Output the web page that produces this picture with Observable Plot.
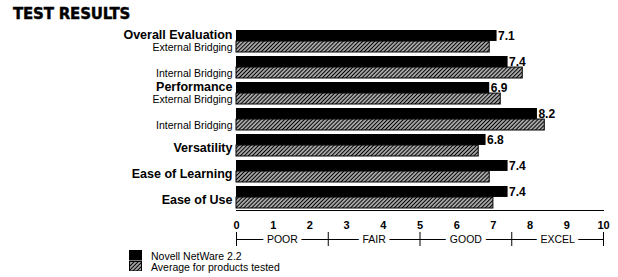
<!DOCTYPE html>
<html><head><meta charset="utf-8">
<script src="https://cdn.jsdelivr.net/npm/d3@7"></script>
<script src="https://cdn.jsdelivr.net/npm/@observablehq/plot@0.6"></script>
<style>
body{margin:0;background:#fff;}
#wrap{position:relative;width:618px;height:277px;overflow:hidden;font-family:"Liberation Sans",Arial,Helvetica,sans-serif;color:#000;}
#title{position:absolute;left:13px;top:7px;font-family:"DejaVu Sans",sans-serif;font-weight:bold;font-size:15px;line-height:1;letter-spacing:-0.2px;white-space:nowrap;-webkit-text-stroke:0.4px #000;}
#main{position:absolute;left:0;top:22px;}
#scale{position:absolute;left:0;top:210px;}
#legend{position:absolute;left:129px;top:250px;font-size:10.5px;}
#legend .item{display:flex;align-items:center;height:10.5px;line-height:10.5px;white-space:nowrap;}
#legend .item span{position:relative;top:1px;}
#legend .sw{display:block;width:13px;height:10.5px;margin-right:9px;box-sizing:border-box;}
</style></head><body>
<svg width="0" height="0" style="position:absolute"><defs>
<pattern id="hatch" patternUnits="userSpaceOnUse" width="2.8" height="2.8" patternTransform="rotate(45)">
<rect width="2.8" height="2.8" fill="white"/><line x1="1.4" y1="0" x2="1.4" y2="2.8" stroke="black" stroke-width="1.6"/>
</pattern></defs></svg>
<div id="wrap">
  <div id="title">TEST RESULTS</div>
  <div id="main"></div>
  <div id="scale"></div>
  <div id="legend"></div>
</div>
<script>
// ---- data ----
const categories = ["Overall Evaluation","Overall Evaluation","Performance","Performance","Versatility","Ease of Learning","Ease of Use"];
const subcategories = ["External Bridging","Internal Bridging","External Bridging","Internal Bridging",null,null,null];
const netware = [7.1, 7.4, 6.9, 8.2, 6.8, 7.4, 7.4];
const average = [6.9, 7.8, 7.2, 8.4, 6.6, 6.9, 7.0];
const xTicks = [0,1,2,3,4,5,6,7,8,9,10];
const ratingBreaks = [0, 2.5, 5, 7.5, 10];
const ratingLabels = ["POOR","FAIR","GOOD","EXCEL"];
const seriesNames = ["Novell NetWare 2.2","Average for products tested"];

const rows = categories.map((c, i) => ({
  i, category: c, sub: subcategories[i],
  first: i === 0 || categories[i - 1] !== c,
  netware: netware[i], average: average[i]
}));
const ratingBands = ratingLabels.map((label, k) => ({label, x1: ratingBreaks[k], x2: ratingBreaks[k + 1]}));

// ---- layout ----
const W = 618, H = 188, mT = 6, mB = 0, mL = 236, mR = 15;
const pI = 0.15, pO = 0.075;
const step = (H - mT - mB) / (rows.length - pI + 2 * pO);
const half = step * (1 - pI) / 2;
const font = "Liberation Sans, Arial, Helvetica, sans-serif";

const main = Plot.plot({
  width: W, height: H, marginTop: mT, marginBottom: mB, marginLeft: mL, marginRight: mR,
  style: {fontFamily: font, background: "white", overflow: "visible", color: "black"},
  x: {domain: [0, 10], axis: null},
  y: {domain: rows.map(d => d.i), paddingInner: pI, paddingOuter: pO, axis: null},
  marks: [
    Plot.barX(rows, {x: "netware", y: "i", fill: "black", insetBottom: half}),
    Plot.barX(rows, {x: "average", y: "i", fill: "url(#hatch)", stroke: "black", strokeWidth: 1, insetTop: half}),
    Plot.text(rows, {x: "netware", y: "i", text: d => d.netware.toFixed(1), dy: -half / 2 + 0.5, dx: 1, textAnchor: "start", fontWeight: "bold", fontSize: 12, fill: "black"}),
    Plot.text(rows.filter(d => d.first && d.sub), {y: "i", text: "category", frameAnchor: "left", textAnchor: "end", dx: -4, dy: -half / 2 - 0.5, fontWeight: "bold", fontSize: 12.5, fill: "black"}),
    Plot.text(rows.filter(d => d.first && !d.sub), {y: "i", text: "category", frameAnchor: "left", textAnchor: "end", dx: -4, dy: 2, fontWeight: "bold", fontSize: 12.5, fill: "black"}),
    Plot.text(rows.filter(d => d.sub), {y: "i", text: "sub", frameAnchor: "left", textAnchor: "end", dx: -4, dy: half / 2 + 1, fontSize: 10.5, fill: "black"}),
    Plot.frame({anchor: "bottom", stroke: "black", strokeWidth: 1})
  ]
});
document.getElementById("main").append(main);

const lower = Plot.plot({
  width: W, height: 40, marginTop: 8, marginBottom: 4, marginLeft: mL, marginRight: mR,
  style: {fontFamily: font, background: "transparent", overflow: "visible", color: "black"},
  x: {domain: [0, 10], axis: null},
  y: {domain: ["ticks", "rating"], padding: 0, axis: null},
  marks: [
    Plot.text(xTicks, {x: d => d, y: () => "ticks", text: d => String(d), fontWeight: "bold", fontSize: 11, fill: "black"}),
    Plot.ruleY(["rating"], {y: d => d, stroke: "black", strokeWidth: 1}),
    Plot.tickX(ratingBreaks, {x: d => d, y: () => "rating", stroke: "black", strokeWidth: 1}),
    Plot.text(ratingBands, {x: d => (d.x1 + d.x2) / 2, y: () => "rating", text: "label", fontSize: 10.5, fill: "black", stroke: "white", strokeWidth: 9, paintOrder: "stroke"})
  ]
});
document.getElementById("scale").append(lower);

const legend = document.getElementById("legend");
seriesNames.forEach((name, k) => {
  const item = document.createElement("div");
  item.className = "item";
  const sw = document.createElementNS("http://www.w3.org/2000/svg", "svg");
  sw.setAttribute("class", "sw");
  sw.setAttribute("width", "13"); sw.setAttribute("height", "10.5");
  const r = document.createElementNS("http://www.w3.org/2000/svg", "rect");
  r.setAttribute("x", "0.5"); r.setAttribute("y", "0.5"); r.setAttribute("width", "12"); r.setAttribute("height", "9.5");
  r.setAttribute("fill", k === 0 ? "black" : "url(#hatch)");
  r.setAttribute("stroke", "black");
  sw.append(r);
  const label = document.createElement("span");
  label.textContent = name;
  item.append(sw, label);
  legend.append(item);
});
</script>
</body></html>
